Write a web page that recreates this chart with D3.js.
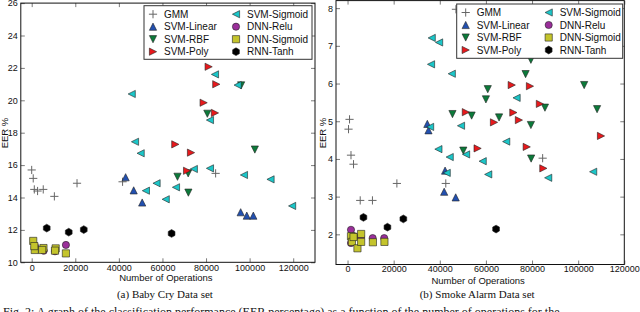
<!DOCTYPE html>
<html>
<head>
<meta charset="utf-8">
<script src="https://d3js.org/d3.v7.min.js"></script>
<style>
  body { margin: 0; background: #fff; }
  svg { display: block; }
  text { font-family: 'Liberation Sans', Arial, sans-serif; fill: #111; }
  .caption { font-family: 'Liberation Serif', 'DejaVu Serif', serif; }
</style>
</head>
<body>
<svg width="640" height="312"></svg>
<script>
// DATA ========================================================
const seriesNames = ["GMM", "SVM-Linear", "SVM-RBF", "SVM-Poly", "SVM-Sigmoid", "DNN-Relu", "DNN-Sigmoid", "RNN-Tanh"];
const seriesColors = ["#666666", "#2250b0", "#0c7a3a", "#e8191c", "#1cc6c8", "#9a2f9a", "#c4c42c", "#000000"];
const seriesShapes = ["plus", "up", "down", "right", "left", "circle", "square", "hex"];

const xTicks = [0, 20000, 40000, 60000, 80000, 100000, 120000];
const babyYTicks = [10, 12, 14, 16, 18, 20, 22, 24, 26];
const smokeYTicks = [2, 3, 4, 5, 6, 7, 8];

// (a) Baby Cry: [operations, EER %]
const babyGMM = [[0, 15.7], [700, 15.18], [1200, 14.5], [2700, 14.4], [5300, 14.5], [10400, 14.07], [20800, 14.88], [41700, 14.97], [84400, 15.49]];
const babyLinear = [[43100, 15.25], [46800, 14.44], [50700, 13.69], [95900, 13.09], [98700, 12.88], [101700, 12.88]];
const babyRBF = [[80600, 19.17], [96100, 20.92], [102400, 16.96], [66900, 15.28], [71800, 15.49], [71900, 14.3]];
const babyPoly = [[81200, 22.07], [84700, 20.99], [78900, 19.85], [84100, 19.22], [65900, 17.28], [73100, 16.77], [71300, 15.65]];
const babySigmoid = [[84100, 21.6], [94500, 20.94], [45900, 20.39], [81800, 18.78], [47400, 17.44], [50000, 16.73], [74400, 15.76], [81800, 15.8], [97400, 15.39], [109600, 15.12], [57300, 14.88], [52400, 14.42], [66200, 14.63], [61500, 13.89], [119500, 13.48]];
const babyRelu = [[1500, 11.0], [5500, 10.72], [10700, 10.68], [15700, 11.07]];
const babyDnnSig = [[700, 11.32], [1400, 10.76], [1200, 11.0], [5400, 10.88], [4800, 10.76], [11000, 10.86], [10700, 10.72], [15700, 10.55]];
const babyRnn = [[6900, 12.11], [17000, 11.86], [23900, 12.02], [64200, 11.78]];

// (b) Smoke Alarm: [operations, EER %]
const smokeGMM = [[870, 5.05], [430, 4.79], [1500, 4.1], [2600, 3.86], [5500, 2.9], [10800, 2.9], [21400, 3.35], [42600, 3.35], [84600, 4.02], [47000, 7.97]];
const smokeLinear = [[34600, 4.93], [35100, 4.76], [42300, 3.69], [41900, 3.13], [46900, 2.98]];
const smokeRBF = [[79500, 6.63], [77200, 6.25], [60800, 5.85], [60000, 5.58], [45500, 5.19], [53800, 5.15], [65700, 5.1], [79500, 4.9], [102600, 5.96], [85600, 5.36], [108200, 5.32], [50200, 4.22], [79600, 4.01]];
const smokePoly = [[71200, 5.96], [79100, 5.93], [83400, 5.46], [51300, 5.24], [71900, 5.23], [74300, 5.03], [63500, 4.97], [109900, 4.61], [56400, 4.28], [77700, 4.32], [84900, 3.75]];
const smokeSigmoid = [[36500, 7.21], [39700, 7.09], [36200, 6.51], [45200, 6.26], [73300, 5.62], [49200, 4.88], [35800, 4.85], [39400, 4.26], [44300, 4.05], [51400, 4.12], [68800, 4.46], [58600, 3.94], [61000, 3.59], [43000, 3.63], [87000, 3.5], [106500, 3.66]];
const smokeRelu = [[1500, 2.12], [1500, 1.77], [3000, 1.95], [5800, 1.92], [10900, 1.9], [15900, 1.9]];
const smokeDnnSig = [[1500, 1.95], [1900, 1.8], [2600, 1.93], [4300, 1.63], [5900, 2.01], [5900, 1.8], [11000, 1.79], [16000, 1.8]];
const smokeRnn = [[6900, 2.45], [17300, 2.19], [24200, 2.41], [64400, 2.14]];

const babySeries = [babyGMM, babyLinear, babyRBF, babyPoly, babySigmoid, babyRelu, babyDnnSig, babyRnn];
const smokeSeries = [smokeGMM, smokeLinear, smokeRBF, smokePoly, smokeSigmoid, smokeRelu, smokeDnnSig, smokeRnn];

// PANELS ======================================================
const svg = d3.select("svg");

const panels = [
  { series: babySeries, xDomain: [-5000, 130000], xRange: [20.8, 315], yDomain: [10, 26], yRange: [262.3, 3.1],
    yTicks: babyYTicks, caption: "(a) Baby Cry Data set", legend: [144, 5.7, 168, 53.6], yLabelX: 8, xPad: 2, xLabelY: 281 },
  { series: smokeSeries, xDomain: [-5000, 120000], xRange: [336, 624.3], yDomain: [1.2, 8.2], yRange: [264.5, 0.6],
    yTicks: smokeYTicks, caption: "(b) Smoke Alarm Data set", legend: [456.7, 4, 166, 54.3], yLabelX: 326, xPad: 1, xLabelY: 283.5 }
];

const R = 3.6;
function shapePath(shape) {
  const r = R;
  switch (shape) {
    case "up": return `M0,${-r}L${r},${r}L${-r},${r}Z`;
    case "down": return `M0,${r}L${r},${-r}L${-r},${-r}Z`;
    case "right": return `M${r},0L${-r},${r}L${-r},${-r}Z`;
    case "left": return `M${-r},0L${r},${r}L${r},${-r}Z`;
    case "square": return `M${-r},${-r}H${r}V${r}H${-r}Z`;
    case "plus": return `M${-r - 0.5},0H${r + 0.5}M0,${-r - 0.5}V${r + 0.5}`;
    case "circle": return d3.symbol(d3.symbolCircle, Math.PI * r * r)();
    case "hex": {
      const pts = d3.range(6).map(i => {
        const a = Math.PI / 6 + i * Math.PI / 3;
        return [Math.cos(a) * (r + 0.3), Math.sin(a) * (r + 0.3)];
      });
      return "M" + pts.join("L") + "Z";
    }
  }
}

function drawMarker(g, shape, color, x, y) {
  const p = g.append("path")
    .attr("d", shapePath(shape))
    .attr("transform", `translate(${x},${y})`);
  if (shape === "plus") {
    p.attr("fill", "none").attr("stroke", color).attr("stroke-width", 1);
  } else {
    p.attr("fill", color).attr("stroke", "#222").attr("stroke-width", 0.6);
  }
}

panels.forEach(pn => {
  const x = d3.scaleLinear().domain(pn.xDomain).range(pn.xRange);
  const y = d3.scaleLinear().domain(pn.yDomain).range(pn.yRange);
  const g = svg.append("g");
  const [x0, x1] = pn.xRange, [y0, y1] = pn.yRange;

  // data
  const marks = g.append("g");
  pn.series.forEach((pts, i) => {
    pts.forEach(d => drawMarker(marks, seriesShapes[i], seriesColors[i], x(d[0]), y(d[1])));
  });

  // axes (ticks inside, on all four sides)
  g.append("g").attr("transform", `translate(0,${y0})`)
    .call(d3.axisBottom(x).tickValues(xTicks).tickSizeInner(-4).tickSizeOuter(0).tickPadding(pn.xPad).tickFormat(d3.format("d")))
    .call(a => a.select(".domain").remove());
  g.append("g").attr("transform", `translate(0,${y1})`)
    .call(d3.axisTop(x).tickValues(xTicks).tickSizeInner(-4).tickSizeOuter(0).tickFormat(""))
    .call(a => a.select(".domain").remove());
  g.append("g").attr("transform", `translate(${x0},0)`)
    .call(d3.axisLeft(y).tickValues(pn.yTicks).tickSizeInner(-4).tickSizeOuter(0).tickPadding(3).tickFormat(d3.format("d")))
    .call(a => a.select(".domain").remove());
  g.append("g").attr("transform", `translate(${x1},0)`)
    .call(d3.axisRight(y).tickValues(pn.yTicks).tickSizeInner(-4).tickSizeOuter(0).tickFormat(""))
    .call(a => a.select(".domain").remove());
  g.selectAll(".tick text").attr("font-size", 9).attr("font-family", "'Liberation Sans', Arial, sans-serif").attr("fill", "#111");
  g.selectAll(".tick line").attr("stroke", "#222").attr("stroke-width", 0.6);

  g.append("rect").attr("x", x0).attr("y", y1).attr("width", x1 - x0).attr("height", y0 - y1)
    .attr("fill", "none").attr("stroke", "#111").attr("stroke-width", 1);

  // labels
  const cx = (x0 + x1) / 2;
  g.append("text").attr("x", cx - 2).attr("y", pn.xLabelY).attr("text-anchor", "middle").attr("font-size", 9.5).text("Number of Operations");
  g.append("text").attr("class", "caption").attr("x", cx - 3).attr("y", 298).attr("text-anchor", "middle").attr("font-size", 11).text(pn.caption);
  g.append("text").attr("transform", `translate(${pn.yLabelX},133) rotate(-90)`).attr("text-anchor", "middle").attr("font-size", 9.5).text("EER %");

  // legend
  const [lx, ly, lw, lh] = pn.legend;
  const lg = g.append("g");
  lg.append("rect").attr("x", lx).attr("y", ly).attr("width", lw).attr("height", lh)
    .attr("fill", "#fff").attr("stroke", "#333").attr("stroke-width", 1);
  seriesNames.forEach((name, i) => {
    const col = Math.floor(i / 4), row = i % 4;
    const mx = lx + 9 + col * 83, my = ly + 8.5 + row * 12.5;
    drawMarker(lg, seriesShapes[i], seriesColors[i], mx, my);
    lg.append("text").attr("x", mx + 11).attr("y", my + 3.6).attr("font-size", 10).text(name);
  });
});

svg.append("text").attr("class", "caption").attr("x", 3).attr("y", 316).attr("font-size", 12)
  .text("Fig. 2:  A graph of the classification performance (EER percentage) as a function of the number of operations for the");
</script>
</body>
</html>
